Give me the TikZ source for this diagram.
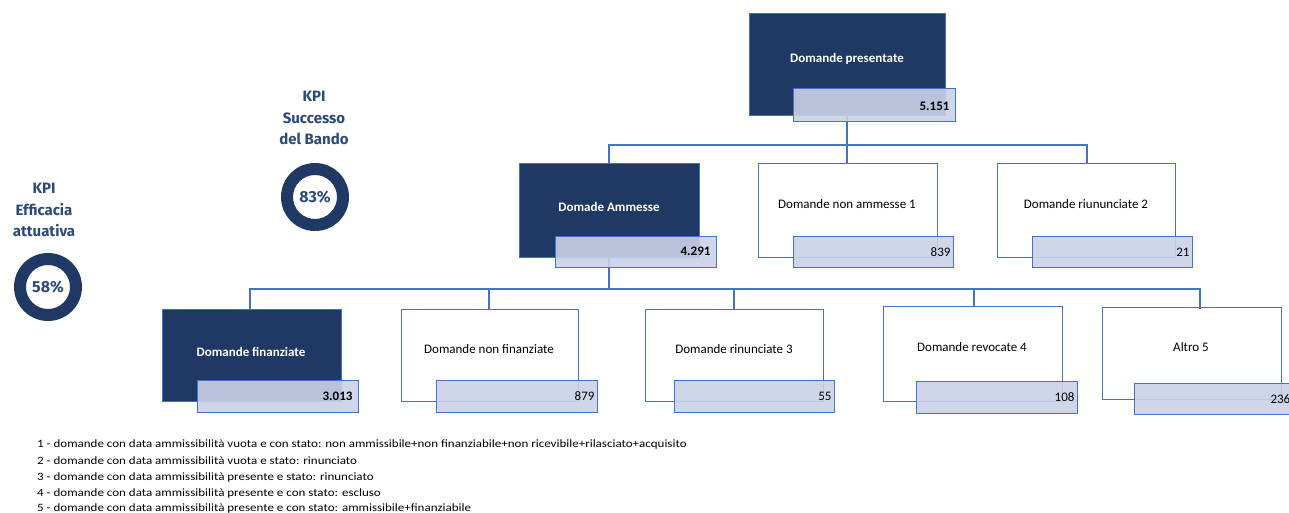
\documentclass[tikz,border=0pt]{standalone}
\usepackage{fontspec}
\setmainfont{Carlito}
\newfontfamily\kpifont{Fira Sans}
\definecolor{darkbox}{HTML}{203864}
\definecolor{edge}{HTML}{4472C4}
\definecolor{numfill}{RGB}{202,209,231}
\definecolor{kpitext}{HTML}{2B4A7A}
\tikzset{
  darkcard/.style={draw=edge, line width=1pt, fill=darkbox},
  whitecard/.style={draw=edge, line width=1pt, fill=white},
  numcard/.style={draw=edge, line width=1pt, fill=numfill, fill opacity=0.9},
  link/.style={draw=edge, line width=1.1pt},
  titlew/.style={text=white, font=\fontsize{13}{15}\selectfont\bfseries},
  titleb/.style={text=black, font=\fontsize{13}{15}\selectfont},
  numb/.style={anchor=east, font=\fontsize{13}{15}\selectfont\bfseries},
  numn/.style={anchor=east, font=\fontsize{13}{15}\selectfont},
  kpilabel/.style={align=center, text=kpitext, font=\kpifont\fontsize{15}{21.5}\selectfont\bfseries},
  kpival/.style={text=kpitext, font=\kpifont\fontsize{16}{18}\selectfont\bfseries},
  note/.style={anchor=mid west, inner sep=0pt, font=\fontsize{11.2}{12}\selectfont}
}
\newcommand{\notetext}[1]{\scalebox{1.16}[1]{#1}}
\begin{document}
\begin{tikzpicture}[x=1pt,y=-1pt]
\useasboundingbox (0,0) rectangle (1289,513);

% ---------- cards (rectangles) ----------
% level 1
\path[darkcard] (749,14) rectangle (945,116);
\node[titlew] (t0) at (847,59) {Domande presentate};
% level 2
\path[darkcard] (519,164) rectangle (699,257);
\node[titlew] (t1) at (609,207) {Domade Ammesse};
\path[whitecard] (758,164) rectangle (937,257);
\node[titleb] (t2) at (847,204) {Domande non ammesse 1};
\path[whitecard] (997,164) rectangle (1175,257);
\node[titleb] (t3) at (1086,204) {Domande riununciate 2};
% level 3
\path[darkcard] (162,309) rectangle (341,401);
\node[titlew] (t4) at (251,352) {Domande finanziate};
\path[whitecard] (401,309) rectangle (578,401);
\node[titleb] (t5) at (489,349) {Domande non finanziate};
\path[whitecard] (645,309) rectangle (823,401);
\node[titleb] (t6) at (734,349) {Domande rinunciate 3};
\path[whitecard] (883,306) rectangle (1062,401);
\node[titleb] (t7) at (972,347) {Domande revocate 4};
\path[whitecard] (1102,307) rectangle (1281,399);
\node[titleb] (t8) at (1191,347) {Altro 5};

% ---------- connectors ----------
\coordinate (b0) at (847,116);
\coordinate (h0) at (847,145);
\coordinate (top1) at (609,164);
\coordinate (top2) at (847,164);
\coordinate (top3) at (1087,164);
\draw[link] (b0) -- (h0);
\draw[link] (top1) |- (h0) -| (top3);
\draw[link] (h0) -- (top2);

\coordinate (b1) at (609,257);
\coordinate (h1) at (609,289);
\coordinate (c4) at (250,309);
\coordinate (c5) at (489,309);
\coordinate (c6) at (734,309);
\coordinate (c7) at (974,306);
\coordinate (c8) at (1200,309);
\draw[link, line width=1.8pt] (b1) -- (h1);
\draw[link] (c4) |- (h1) -| (c8);
\draw[link] (c5 |- h1) -- (c5);
\draw[link] (c6 |- h1) -- (c6);
\draw[link] (c7 |- h1) -- (c7);

% ---------- number boxes ----------
\path[numcard] (793,89) rectangle (955,122);
\node[numb] (n0) at (953,106) {5.151};
\path[numcard] (555,236) rectangle (716,267);
\node[numb] (n1) at (714,251) {4.291};
\path[numcard] (793,236) rectangle (953,267);
\node[numn] (n2) at (954,252) {839};
\path[numcard] (1032,236) rectangle (1192,267);
\node[numn] (n3) at (1193,252) {21};
\path[numcard] (197,380) rectangle (358,412);
\node[numb] (n4) at (356,396) {3.013};
\path[numcard] (436,380) rectangle (597,412);
\node[numn] (n5) at (598,396) {879};
\path[numcard] (674,380) rectangle (834,412);
\node[numn] (n6) at (835,396) {55};
\path[numcard] (916,381) rectangle (1077,413);
\node[numn] (n7) at (1078,397) {108};
\path[numcard] (1134,383) rectangle (1300,414);
\node[numn, anchor=west] (n8) at (1267,399) {236};

% ---------- KPI ----------
\node[kpilabel] (k1) at (314,118) {KPI\\Successo\\del Bando};
\fill[darkbox, even odd rule] (315,197) circle (34) (315,197) circle (22);
\node[kpival] (v1) at (315,197) {83\%};
\node[kpilabel] (k2) at (44,210) {KPI\\Efficacia\\attuativa};
\fill[darkbox, even odd rule] (48,287) circle (34) (48,287) circle (22);
\node[kpival] (v2) at (48,287) {58\%};

% ---------- notes ----------
\node[note] (f1) at (37,445) {\notetext{1 - domande con data ammissibilità vuota e con stato: non ammissibile+non finanziabile+non ricevibile+rilasciato+acquisito}};
\node[note] (f2) at (37,462) {\notetext{2 - domande con data ammissibilità vuota e stato: rinunciato}};
\node[note] (f3) at (37,478) {\notetext{3 - domande con data ammissibilità presente e stato: rinunciato}};
\node[note] (f4) at (37,494) {\notetext{4 - domande con data ammissibilità presente e con stato: escluso}};
\node[note] (f5) at (37,509) {\notetext{5 - domande con data ammissibilità presente e con stato: ammissibile+finanziabile}};
\end{tikzpicture}
\end{document}
